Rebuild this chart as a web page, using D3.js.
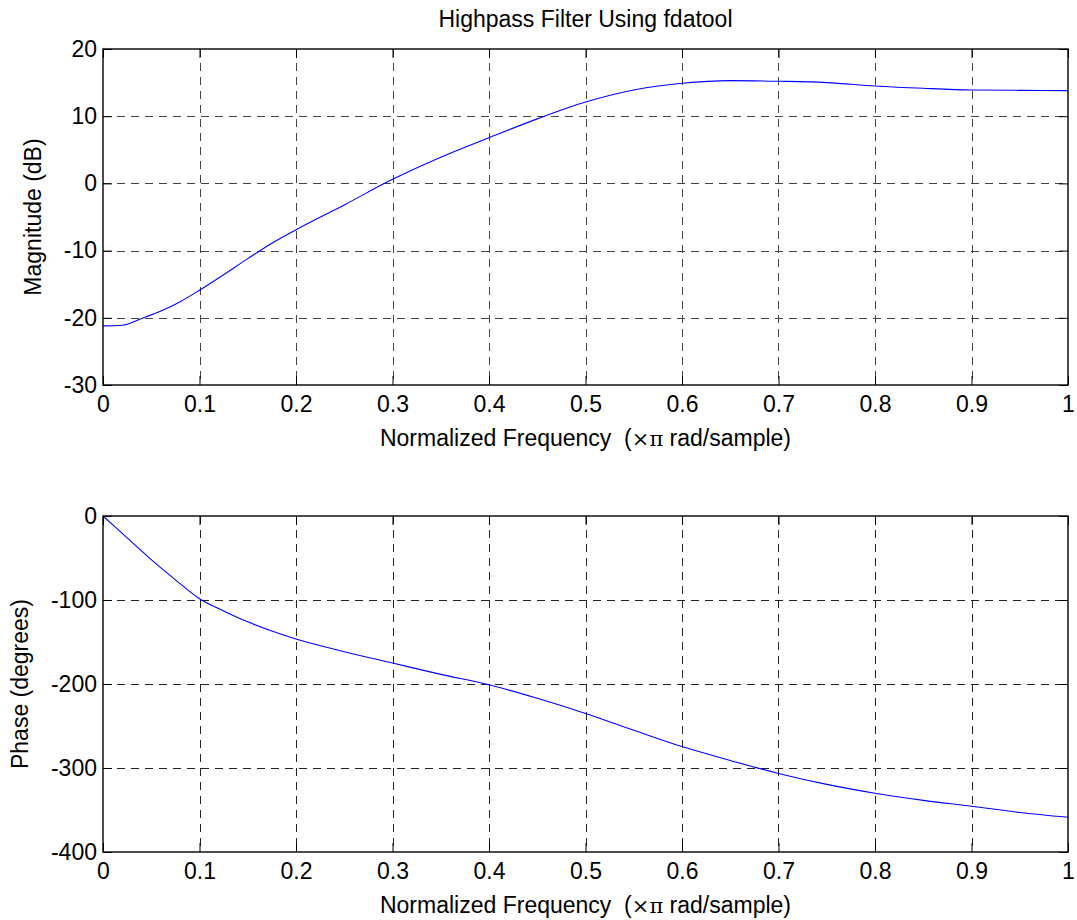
<!DOCTYPE html>
<html>
<head>
<meta charset="utf-8">
<script src="https://cdn.jsdelivr.net/npm/d3@7"></script>
<style>
  html, body { margin: 0; padding: 0; background: #fff; }
  svg { display: block; }
  text { font-family: "Liberation Sans", Arial, Helvetica, sans-serif; fill: #000; }
</style>
</head>
<body>
<svg id="chart" width="1077" height="920"></svg>
<script>
// Normalized frequency axis (x pi rad/sample)
const xTickValues = [0, 0.1, 0.2, 0.3, 0.4, 0.5, 0.6, 0.7, 0.8, 0.9, 1];
const xTickLabels = ["0", "0.1", "0.2", "0.3", "0.4", "0.5", "0.6", "0.7", "0.8", "0.9", "1"];

// Magnitude response (dB)
const magFreq = [0, 0.02, 0.04, 0.06, 0.08, 0.1, 0.125, 0.15, 0.175, 0.2, 0.25, 0.3, 0.35, 0.4, 0.45, 0.5, 0.55, 0.6, 0.65, 0.7, 0.75, 0.8, 0.85, 0.9, 0.95, 1];
const magDb   = [-21.2, -21.1, -20.1, -19.0, -17.6, -15.9, -13.6, -11.2, -8.9, -6.9, -3.2, 0.6, 3.9, 6.8, 9.6, 12.1, 13.9, 14.9, 15.3, 15.2, 15.0, 14.5, 14.15, 13.9, 13.85, 13.8];
const magTickValues = [-30, -20, -10, 0, 10, 20];
const magTickLabels = ["-30", "-20", "-10", "0", "10", "20"];

// Phase response (degrees)
const phaseFreq = [0, 0.025, 0.05, 0.075, 0.1, 0.125, 0.15, 0.175, 0.2, 0.25, 0.3, 0.35, 0.4, 0.45, 0.5, 0.55, 0.6, 0.65, 0.7, 0.75, 0.8, 0.85, 0.9, 0.95, 1];
const phaseDeg  = [0, -26, -52, -76, -98.5, -113, -126, -137, -146.5, -161.5, -175, -188.5, -201, -217, -235, -255, -274.5, -291, -306.5, -319.5, -330, -338.5, -345.5, -353, -358.7];
const phaseTickValues = [-400, -300, -200, -100, 0];
const phaseTickLabels = ["-400", "-300", "-200", "-100", "0"];

const titleText = "Highpass Filter Using fdatool";
const xLabelMain = "Normalized Frequency  (";
const xLabelSym = "\u00D7\u03C0";
const xLabelTail = " rad/sample)";

const svg = d3.select("#chart");
const FONT = 23;
const left = 103, right = 1068;
const tickLen = 9;

const x = d3.scaleLinear().domain([0, 1]).range([left, right]);

function panel(cfg) {
  const { top, bottom, domain, tickValues, tickLabels, freq, vals, ylabel, ylabelX, title } = cfg;
  const y = d3.scaleLinear().domain(domain).range([bottom, top]);
  const g = svg.append("g");

  // dashed grid
  const grid = g.append("g").attr("stroke", cfg.gridColor).attr("stroke-width", 1)
    .attr("stroke-dasharray", "8,6");
  grid.selectAll("line.v").data(xTickValues.slice(1, -1)).join("line")
    .attr("class", "v")
    .attr("x1", d => Math.round(x(d)) + 0.5).attr("x2", d => Math.round(x(d)) + 0.5)
    .attr("y1", top).attr("y2", bottom);
  grid.selectAll("line.h").data(tickValues.slice(1, -1)).join("line")
    .attr("class", "h")
    .attr("x1", left).attr("x2", right)
    .attr("y1", d => Math.round(y(d)) + 0.5).attr("y2", d => Math.round(y(d)) + 0.5);

  // response curve
  const pts = freq.map((f, i) => [f, vals[i]]);
  g.append("path").datum(pts)
    .attr("fill", "none").attr("stroke", "#0000ff").attr("stroke-width", 1.1)
    .attr("d", d3.line().x(d => x(d[0])).y(d => y(d[1])).curve(d3.curveMonotoneX));

  // axes with inward ticks on all sides
  const bottomAxis = d3.axisBottom(x).tickValues(xTickValues)
    .tickFormat((d, i) => xTickLabels[i]).tickSizeInner(-tickLen).tickSizeOuter(0).tickPadding(11);
  const topAxis = d3.axisTop(x).tickValues(xTickValues)
    .tickFormat("").tickSizeInner(-tickLen).tickSizeOuter(0);
  const leftAxis = d3.axisLeft(y).tickValues(tickValues)
    .tickFormat((d, i) => tickLabels[i]).tickSizeInner(-tickLen).tickSizeOuter(0).tickPadding(6);
  const rightAxis = d3.axisRight(y).tickValues(tickValues)
    .tickFormat("").tickSizeInner(-tickLen).tickSizeOuter(0);

  const styleAxis = sel => {
    sel.select(".domain").remove();
    sel.selectAll(".tick line").attr("stroke", "#000").attr("stroke-width", 1);
    sel.selectAll(".tick text").attr("font-size", FONT)
      .style("font-family", "'Liberation Sans', Arial, Helvetica, sans-serif").attr("fill", "#000");
  };
  g.append("g").attr("transform", `translate(0,${bottom})`).call(bottomAxis).call(styleAxis);
  g.append("g").attr("transform", `translate(0,${top})`).call(topAxis).call(styleAxis);
  g.append("g").attr("transform", `translate(${left},0)`).call(leftAxis).call(styleAxis);
  g.append("g").attr("transform", `translate(${right},0)`).call(rightAxis).call(styleAxis);

  // box
  g.append("rect").attr("x", left).attr("y", top)
    .attr("width", right - left).attr("height", bottom - top)
    .attr("fill", "none").attr("stroke", "#000").attr("stroke-width", 1.4);

  // x label
  const xl = g.append("text").attr("x", (left + right) / 2).attr("y", bottom + 61)
    .attr("text-anchor", "middle").attr("font-size", FONT).style("white-space", "pre");
  xl.append("tspan").text(xLabelMain);
  xl.append("tspan").style("font-family", "'DejaVu Serif', 'Liberation Serif', serif")
    .attr("font-size", FONT - 2).text(xLabelSym);
  xl.append("tspan").text(xLabelTail);

  // y label
  g.append("text")
    .attr("transform", `translate(${ylabelX},${(top + bottom) / 2}) rotate(-90)`)
    .attr("text-anchor", "middle").attr("font-size", FONT).text(ylabel);

  if (title) {
    g.append("text").attr("x", (left + right) / 2).attr("y", top - 22)
      .attr("text-anchor", "middle").attr("font-size", FONT).text(title);
  }
}

panel({
  top: 49, bottom: 385, domain: [-30, 20],
  tickValues: magTickValues, tickLabels: magTickLabels,
  freq: magFreq, vals: magDb,
  ylabel: "Magnitude (dB)", ylabelX: 41, title: titleText, gridColor: "#444"
});

panel({
  top: 516, bottom: 852, domain: [-400, 0],
  tickValues: phaseTickValues, tickLabels: phaseTickLabels,
  freq: phaseFreq, vals: phaseDeg,
  ylabel: "Phase (degrees)", ylabelX: 28, title: null, gridColor: "#222"
});
</script>
</body>
</html>
